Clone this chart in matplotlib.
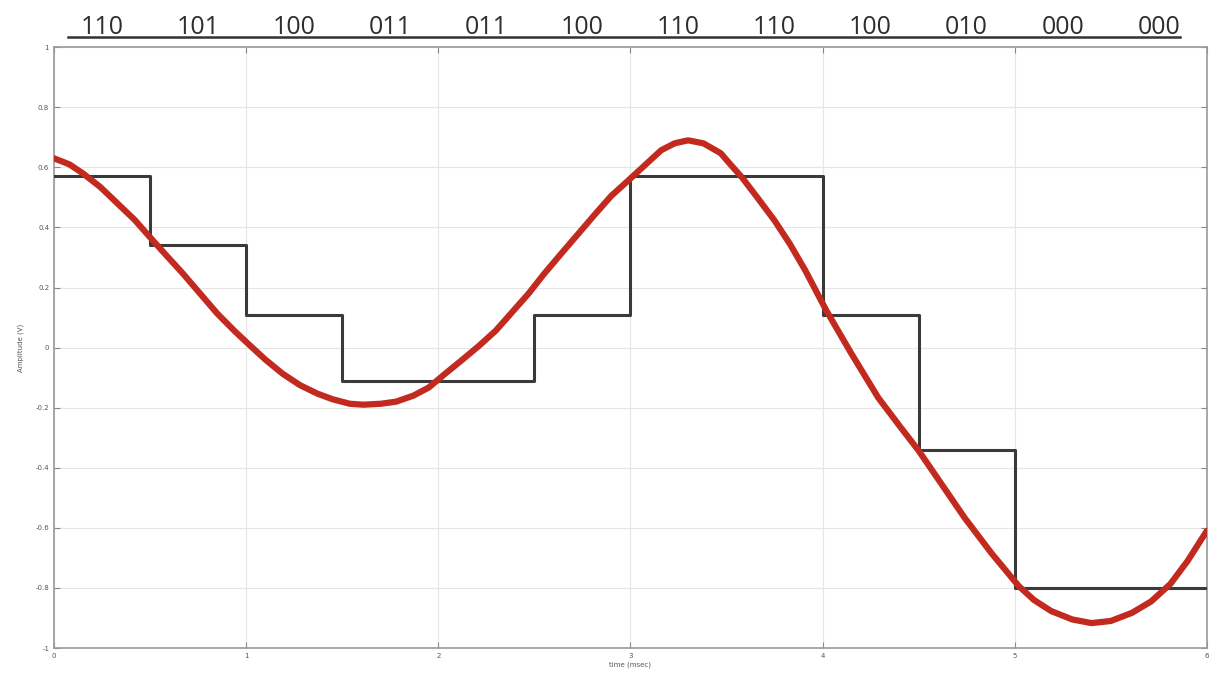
import numpy as np
import matplotlib
matplotlib.use("Agg")
import matplotlib.pyplot as plt

# quantized step signal (3-bit codes)
step_edges = [0, 0.5, 1, 1.5, 2, 2.5, 3, 3.5, 4, 4.5, 5, 5.5, 6]
step_levels = [0.57, 0.34, 0.11, -0.11, -0.11, 0.11, 0.57, 0.57, 0.11, -0.34, -0.8, -0.8]
codes = ["110", "101", "100", "011", "011", "100", "110", "110", "100", "010", "000", "000"]

# analog signal
sig_t = [0, 0.08, 0.15, 0.24, 0.33, 0.42, 0.5, 0.58, 0.67, 0.76, 0.85, 0.94, 1.02, 1.1, 1.19,
         1.28, 1.37, 1.45, 1.54, 1.61, 1.7, 1.78, 1.87, 1.95, 2.03, 2.12, 2.21, 2.3, 2.38,
         2.47, 2.55, 2.64, 2.73, 2.82, 2.9, 2.99, 3.08, 3.16, 3.23, 3.3, 3.38, 3.47, 3.52,
         3.58, 3.66, 3.75, 3.83, 3.91, 4.02, 4.15, 4.29, 4.4, 4.5, 4.62, 4.74, 4.88, 5.02,
         5.1, 5.19, 5.3, 5.4, 5.5, 5.61, 5.71, 5.81, 5.9, 6.0]
sig_v = [0.63, 0.61, 0.58, 0.535, 0.48, 0.425, 0.367, 0.31, 0.247, 0.18, 0.113, 0.055, 0.007,
         -0.04, -0.087, -0.125, -0.153, -0.172, -0.187, -0.19, -0.187, -0.18, -0.16, -0.133,
         -0.09, -0.043, 0.005, 0.057, 0.115, 0.18, 0.245, 0.313, 0.38, 0.447, 0.505, 0.557,
         0.61, 0.657, 0.68, 0.69, 0.68, 0.647, 0.61, 0.567, 0.5, 0.423, 0.345, 0.257, 0.123,
         -0.02, -0.167, -0.26, -0.343, -0.455, -0.567, -0.685, -0.793, -0.84, -0.877, -0.905,
         -0.917, -0.91, -0.883, -0.845, -0.787, -0.71, -0.61]

fig = plt.figure(figsize=(12.09, 6.84), dpi=100)
ax = fig.add_axes([0.0447, 0.0526, 0.9535, 0.8784])

ax.step(step_edges, step_levels + [step_levels[-1]], where="post",
        color="#3a3a3a", linewidth=2.2, zorder=3)
ax.plot(sig_t, sig_v, color="#c22a20", linewidth=4.5, solid_capstyle="round",
        solid_joinstyle="round", zorder=4)

ax.set_xlim(0, 6)
ax.set_ylim(-1, 1)
ax.set_xticks(range(0, 7))
ax.set_yticks(np.round(np.arange(-1, 1.01, 0.2), 1))
ax.set_yticklabels(["-1", "-0.8", "-0.6", "-0.4", "-0.2", "0", "0.2", "0.4", "0.6", "0.8", "1"])
ax.grid(True, color="#e6e6e6", linewidth=0.8)
ax.tick_params(direction="in", top=True, right=True, labelsize=5, length=4,
               color="#888888", labelcolor="#555555")
for s in ax.spines.values():
    s.set_color("#999999")
    s.set_linewidth(1.2)

ax.set_xlabel("time (msec)", fontsize=5, color="#555555", labelpad=2)
ax.set_ylabel("Amplitude (V)", fontsize=5, color="#555555", labelpad=8)

# code labels above the plot
for i, c in enumerate(codes):
    xc = (step_edges[i] + step_edges[i + 1]) / 2
    ax.text(xc, 1.022, c, transform=ax.get_xaxis_transform(), ha="center", va="baseline",
            fontsize=18, color="#2e2e2e", family="Open Sans")
fig.add_artist(plt.Line2D([68 / 1209, 1180 / 1209], [1 - 37 / 684, 1 - 37 / 684],
                          color="#333333", linewidth=1.8))

fig.savefig("out.png", dpi=100)
